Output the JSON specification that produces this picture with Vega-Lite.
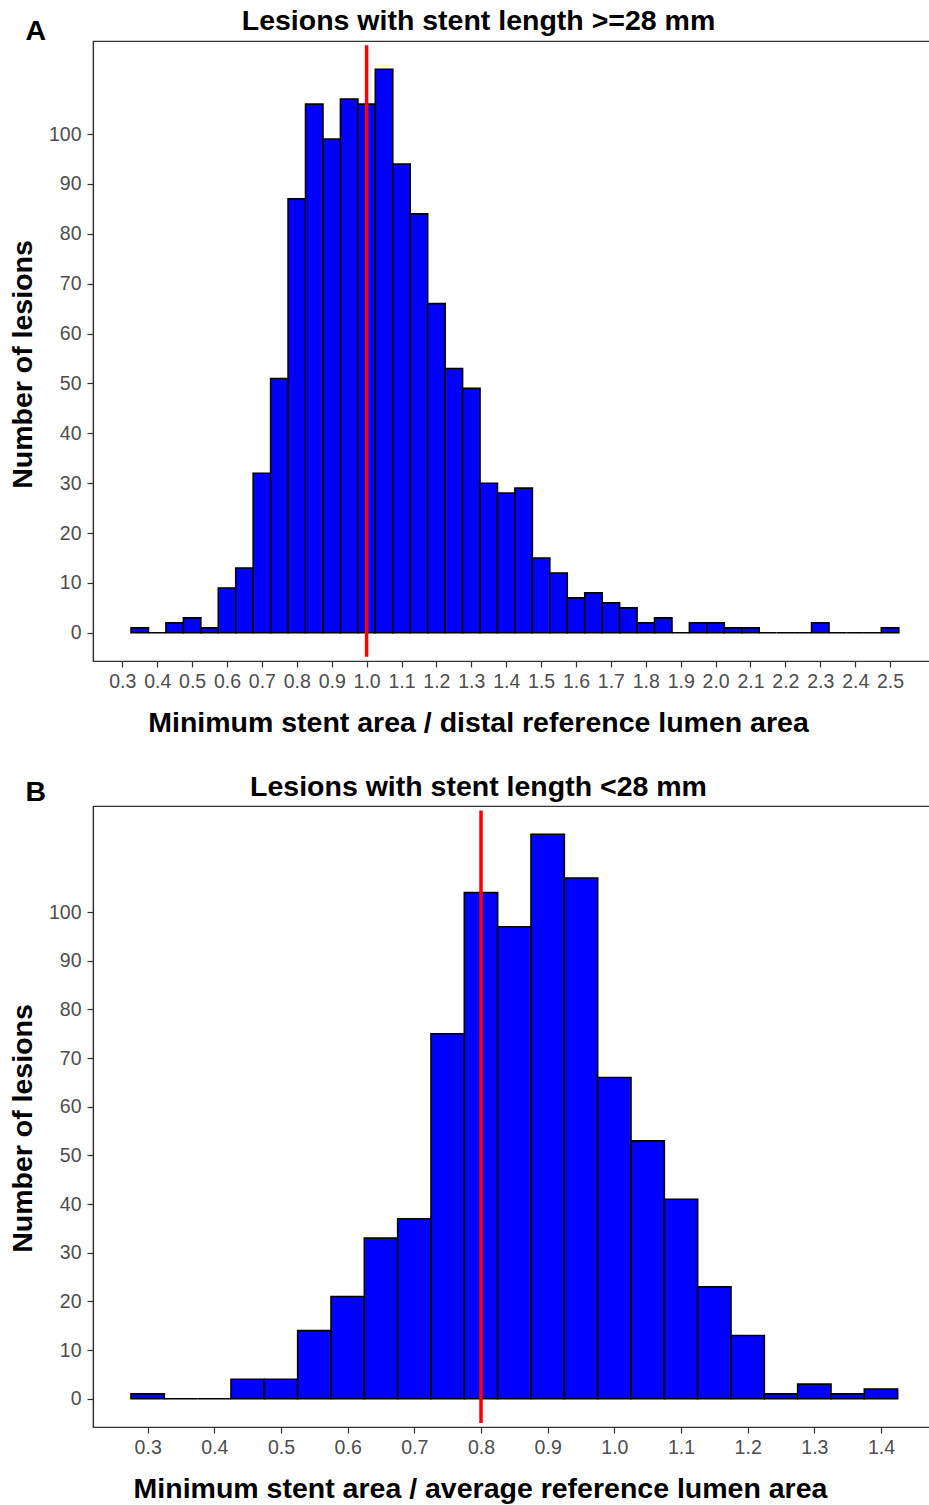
{
  "$schema": "https://vega.github.io/schema/vega-lite/v6.json",
  "padding": {"left": 7, "top": 5, "right": 0, "bottom": 0},
  "background": "white",
  "config": {
    "font": "Liberation Sans",
    "view": {"stroke": "#333333", "strokeWidth": 1.2},
    "axis": {
      "grid": false,
      "domainColor": "#333333",
      "domainWidth": 1.2,
      "tickColor": "#333333",
      "tickSize": 6,
      "tickWidth": 1.2,
      "labelColor": "#4d4d4d",
      "labelFontSize": 19.5,
      "labelFont": "Liberation Sans",
      "titleFont": "Liberation Sans",
      "titleFontSize": 28.5,
      "titleFontWeight": "bold",
      "titleColor": "black",
      "tickCount": 60
    }
  },
  "datasets": {
    "a": [
      {"lo": 0.325, "hi": 0.375, "n": 1},
      {"lo": 0.375, "hi": 0.425, "n": 0},
      {"lo": 0.425, "hi": 0.475, "n": 2},
      {"lo": 0.475, "hi": 0.525, "n": 3},
      {"lo": 0.525, "hi": 0.575, "n": 1},
      {"lo": 0.575, "hi": 0.625, "n": 9},
      {"lo": 0.625, "hi": 0.675, "n": 13},
      {"lo": 0.675, "hi": 0.725, "n": 32},
      {"lo": 0.725, "hi": 0.775, "n": 51},
      {"lo": 0.775, "hi": 0.825, "n": 87},
      {"lo": 0.825, "hi": 0.875, "n": 106},
      {"lo": 0.875, "hi": 0.925, "n": 99},
      {"lo": 0.925, "hi": 0.975, "n": 107},
      {"lo": 0.975, "hi": 1.025, "n": 106},
      {"lo": 1.025, "hi": 1.075, "n": 113},
      {"lo": 1.075, "hi": 1.125, "n": 94},
      {"lo": 1.125, "hi": 1.175, "n": 84},
      {"lo": 1.175, "hi": 1.225, "n": 66},
      {"lo": 1.225, "hi": 1.275, "n": 53},
      {"lo": 1.275, "hi": 1.325, "n": 49},
      {"lo": 1.325, "hi": 1.375, "n": 30},
      {"lo": 1.375, "hi": 1.425, "n": 28},
      {"lo": 1.425, "hi": 1.475, "n": 29},
      {"lo": 1.475, "hi": 1.525, "n": 15},
      {"lo": 1.525, "hi": 1.575, "n": 12},
      {"lo": 1.575, "hi": 1.625, "n": 7},
      {"lo": 1.625, "hi": 1.675, "n": 8},
      {"lo": 1.675, "hi": 1.725, "n": 6},
      {"lo": 1.725, "hi": 1.775, "n": 5},
      {"lo": 1.775, "hi": 1.825, "n": 2},
      {"lo": 1.825, "hi": 1.875, "n": 3},
      {"lo": 1.875, "hi": 1.925, "n": 0},
      {"lo": 1.925, "hi": 1.975, "n": 2},
      {"lo": 1.975, "hi": 2.025, "n": 2},
      {"lo": 2.025, "hi": 2.075, "n": 1},
      {"lo": 2.075, "hi": 2.125, "n": 1},
      {"lo": 2.125, "hi": 2.175, "n": 0},
      {"lo": 2.175, "hi": 2.225, "n": 0},
      {"lo": 2.225, "hi": 2.275, "n": 0},
      {"lo": 2.275, "hi": 2.325, "n": 2},
      {"lo": 2.325, "hi": 2.375, "n": 0},
      {"lo": 2.375, "hi": 2.425, "n": 0},
      {"lo": 2.425, "hi": 2.475, "n": 0},
      {"lo": 2.475, "hi": 2.525, "n": 1}
    ],
    "b": [
      {"lo": 0.275, "hi": 0.325, "n": 1},
      {"lo": 0.325, "hi": 0.375, "n": 0},
      {"lo": 0.375, "hi": 0.425, "n": 0},
      {"lo": 0.425, "hi": 0.475, "n": 4},
      {"lo": 0.475, "hi": 0.525, "n": 4},
      {"lo": 0.525, "hi": 0.575, "n": 14},
      {"lo": 0.575, "hi": 0.625, "n": 21},
      {"lo": 0.625, "hi": 0.675, "n": 33},
      {"lo": 0.675, "hi": 0.725, "n": 37},
      {"lo": 0.725, "hi": 0.775, "n": 75},
      {"lo": 0.775, "hi": 0.825, "n": 104},
      {"lo": 0.825, "hi": 0.875, "n": 97},
      {"lo": 0.875, "hi": 0.925, "n": 116},
      {"lo": 0.925, "hi": 0.975, "n": 107},
      {"lo": 0.975, "hi": 1.025, "n": 66},
      {"lo": 1.025, "hi": 1.075, "n": 53},
      {"lo": 1.075, "hi": 1.125, "n": 41},
      {"lo": 1.125, "hi": 1.175, "n": 23},
      {"lo": 1.175, "hi": 1.225, "n": 13},
      {"lo": 1.225, "hi": 1.275, "n": 1},
      {"lo": 1.275, "hi": 1.325, "n": 3},
      {"lo": 1.325, "hi": 1.375, "n": 1},
      {"lo": 1.375, "hi": 1.425, "n": 2}
    ],
    "refA": [{"ref": 1.0}],
    "refB": [{"ref": 0.8}]
  },
  "spacing": 33,
  "vconcat": [
    {
      "width": 840,
      "height": 620,
      "resolve": {"axis": {"x": "independent", "y": "independent"}},
      "layer": [
        {
          "data": {"name": "a"},
          "mark": {"type": "bar", "fill": "#0000ff", "stroke": "black", "strokeWidth": 1.6},
          "encoding": {
            "x": {
              "field": "lo", "type": "quantitative",
              "scale": {"domain": [0.216, 2.623], "nice": false, "zero": false},
              "axis": {
                "orient": "bottom",
                "title": "Minimum stent area / distal reference lumen area",
                "values": [0.3, 0.4, 0.5, 0.6, 0.7, 0.8, 0.9, 1.0, 1.1, 1.2, 1.3, 1.4, 1.5, 1.6, 1.7, 1.8, 1.9, 2.0, 2.1, 2.2, 2.3, 2.4, 2.5],
                "format": ".1f", "labelFlush": false, "labelOverlap": false, "tickCount": 60,
                "labelPadding": 5, "titlePadding": 18, "titleX": 385
              }
            },
            "x2": {"field": "hi"},
            "y": {
              "field": "n", "type": "quantitative",
              "scale": {"domain": [-5.65, 118.65], "nice": false, "zero": false},
              "axis": {
                "orient": "left",
                "title": "Number of lesions",
                "values": [0, 10, 20, 30, 40, 50, 60, 70, 80, 90, 100],
                "labelPadding": 6, "titlePadding": 11, "titleY": 323
              }
            },
            "y2": {"datum": 0}
          }
        },
        {
          "data": {"name": "refA"},
          "mark": {"type": "rule", "color": "#ff0000", "strokeWidth": 3.5},
          "encoding": {
            "x": {
              "field": "ref", "type": "quantitative",
              "axis": {
                "orient": "top", "title": "Lesions with stent length >=28 mm",
                "labels": false, "ticks": false, "domain": false,
                "titleX": 385, "titleY": -12, "titleBaseline": "alphabetic", "titleAlign": "center"
              }
            },
            "y": {
              "datum": 117.8,
              "axis": {
                "orient": "right", "title": "A", "titleAngle": 0,
                "labels": false, "ticks": false, "domain": false,
                "titleX": -908, "titleY": -2, "titleBaseline": "alphabetic", "titleAlign": "left"
              }
            },
            "y2": {"datum": -4.8}
          }
        }
      ]
    },
    {
      "width": 840,
      "height": 621,
      "resolve": {"axis": {"x": "independent", "y": "independent"}},
      "layer": [
        {
          "data": {"name": "b"},
          "mark": {"type": "bar", "fill": "#0000ff", "stroke": "black", "strokeWidth": 1.6},
          "encoding": {
            "x": {
              "field": "lo", "type": "quantitative",
              "scale": {"domain": [0.218, 1.478], "nice": false, "zero": false},
              "axis": {
                "orient": "bottom",
                "title": "Minimum stent area / average reference lumen area",
                "values": [0.3, 0.4, 0.5, 0.6, 0.7, 0.8, 0.9, 1.0, 1.1, 1.2, 1.3, 1.4],
                "format": ".1f", "labelFlush": false, "labelOverlap": false, "tickCount": 60,
                "labelPadding": 5, "titlePadding": 18, "titleX": 387
              }
            },
            "x2": {"field": "hi"},
            "y": {
              "field": "n", "type": "quantitative",
              "scale": {"domain": [-5.8, 121.8], "nice": false, "zero": false},
              "axis": {
                "orient": "left",
                "title": "Number of lesions",
                "values": [0, 10, 20, 30, 40, 50, 60, 70, 80, 90, 100],
                "labelPadding": 6, "titlePadding": 11, "titleY": 322
              }
            },
            "y2": {"datum": 0}
          }
        },
        {
          "data": {"name": "refB"},
          "mark": {"type": "rule", "color": "#ff0000", "strokeWidth": 3.5},
          "encoding": {
            "x": {
              "field": "ref", "type": "quantitative",
              "axis": {
                "orient": "top", "title": "Lesions with stent length <28 mm",
                "labels": false, "ticks": false, "domain": false,
                "titleX": 385, "titleY": -11, "titleBaseline": "alphabetic", "titleAlign": "center"
              }
            },
            "y": {
              "datum": 120.9,
              "axis": {
                "orient": "right", "title": "B", "titleAngle": 0,
                "labels": false, "ticks": false, "domain": false,
                "titleX": -908, "titleY": -6, "titleBaseline": "alphabetic", "titleAlign": "left"
              }
            },
            "y2": {"datum": -5.0}
          }
        }
      ]
    }
  ]
}
